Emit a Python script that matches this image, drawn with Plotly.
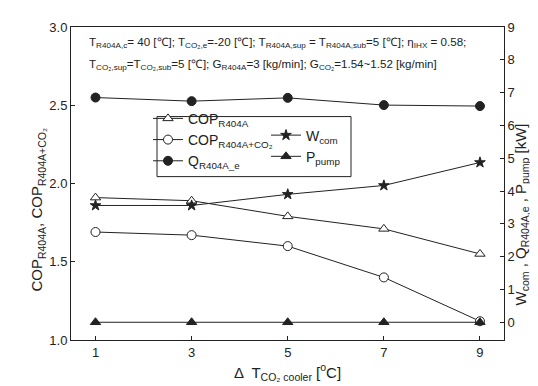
import plotly.graph_objects as go

x_dt = [1, 3, 5, 7, 9]
cop_r404a = [1.91, 1.89, 1.79, 1.71, 1.55]
cop_r404a_co2 = [1.69, 1.67, 1.60, 1.40, 1.12]
q_r404a_e = [6.85, 6.74, 6.84, 6.62, 6.59]
w_com = [3.56, 3.56, 3.90, 4.17, 4.87]
p_pump = [0, 0, 0, 0, 0]

left_ticks = [1.0, 1.5, 2.0, 2.5, 3.0]
right_ticks = list(range(0, 10))

FONT = "Liberation Sans, Arial, sans-serif"
LC = "#222222"

fig = go.Figure()

def add(y, name, symbol, axis, legend, fill, size):
    fig.add_trace(go.Scatter(
        x=x_dt, y=y, name=name, mode="lines+markers", yaxis=axis, legend=legend,
        line=dict(color=LC, width=1),
        marker=dict(symbol=symbol, size=size, color=fill, line=dict(color=LC, width=1)),
    ))

add(cop_r404a, "COP<sub>R404A</sub>", "triangle-up", "y", "legend", "white", 9)
add(cop_r404a_co2, "COP<sub>R404A+CO₂</sub>", "circle", "y", "legend", "white", 9)
add(q_r404a_e, "Q<sub>R404A_e</sub>", "circle", "y2", "legend", LC, 9)
add(w_com, "W<sub>com</sub>", "star", "y2", "legend2", LC, 8)
add(p_pump, "P<sub>pump</sub>", "triangle-up", "y2", "legend2", LC, 9)

L, R, T, B = 63, 42, 14, 54
W, H = 538, 386
pw, ph = W - L - R, H - T - B

def px(xp):
    return (xp - L) / pw

def py(yp):
    return (H - B - yp) / ph

fig.add_shape(type="rect", xref="paper", yref="paper",
              x0=px(149), x1=px(343), y0=py(166), y1=py(105),
              line=dict(color=LC, width=1), fillcolor="white", layer="below")

fig.add_annotation(xref="paper", yref="paper", x=px(79), y=py(30), xanchor="left", yanchor="middle",
                   showarrow=False, font=dict(size=11.6, color=LC, family=FONT),
                   text="T<sub>R404A,c</sub>= 40 [℃]; T<sub>CO₂,e</sub>=-20 [℃]; T<sub>R404A,sup</sub> = T<sub>R404A,sub</sub>=5 [℃]; η<sub>IHX</sub> = 0.58;")
fig.add_annotation(xref="paper", yref="paper", x=px(79), y=py(52), xanchor="left", yanchor="middle",
                   showarrow=False, font=dict(size=11.6, color=LC, family=FONT),
                   text="T<sub>CO₂,sup</sub>=T<sub>CO₂,sub</sub>=5 [℃]; G<sub>R404A</sub>=3 [kg/min]; G<sub>CO₂</sub>=1.54~1.52 [kg/min]")

# axis titles as annotations for exact placement
fig.add_annotation(xref="paper", yref="paper", x=px(18), y=py(200), textangle=-90,
                   showarrow=False, font=dict(size=15, color=LC, family=FONT),
                   text="COP<sub>R404A</sub>, COP<sub>R404A+CO₂</sub>")
fig.add_annotation(xref="paper", yref="paper", x=px(525), y=py(205), textangle=-90,
                   showarrow=False, font=dict(size=15, color=LC, family=FONT),
                   text="W<sub>com</sub> , Q<sub>R404A,e</sub> , P<sub>pump</sub> [kW]")

axis_common = dict(showline=True, linecolor=LC, linewidth=1, ticks="inside", ticklen=4,
                   tickcolor=LC, showgrid=False, zeroline=False,
                   tickfont=dict(size=13, color=LC, family=FONT))

fig.update_layout(
    width=W, height=H,
    margin=dict(l=L, r=R, t=T, b=B),
    paper_bgcolor="white", plot_bgcolor="white",
    font=dict(family=FONT, color=LC),
    xaxis=dict(range=[0.49, 9.5], tickvals=x_dt, mirror=True,
               title=dict(text="Δ  T<sub>CO₂ cooler</sub> [<sup>o</sup>C]", font=dict(size=15, family=FONT, color=LC), standoff=8),
               **axis_common),
    yaxis=dict(range=[1.0, 3.0], tickvals=left_ticks, tickformat=".1f", **axis_common),
    yaxis2=dict(range=[-0.54, 9], tickvals=right_ticks, overlaying="y", side="right",
                ticklabelstandoff=0, **axis_common),
    legend=dict(x=px(140), y=py(91), xanchor="left", yanchor="top", bgcolor="rgba(0,0,0,0)",
                font=dict(size=14, family=FONT, color=LC), tracegroupgap=0, itemwidth=30),
    legend2=dict(x=px(258), y=py(108), xanchor="left", yanchor="top", bgcolor="rgba(0,0,0,0)",
                 font=dict(size=14, family=FONT, color=LC), tracegroupgap=0, itemwidth=30),
    showlegend=True,
)

fig.write_html("out.html")
